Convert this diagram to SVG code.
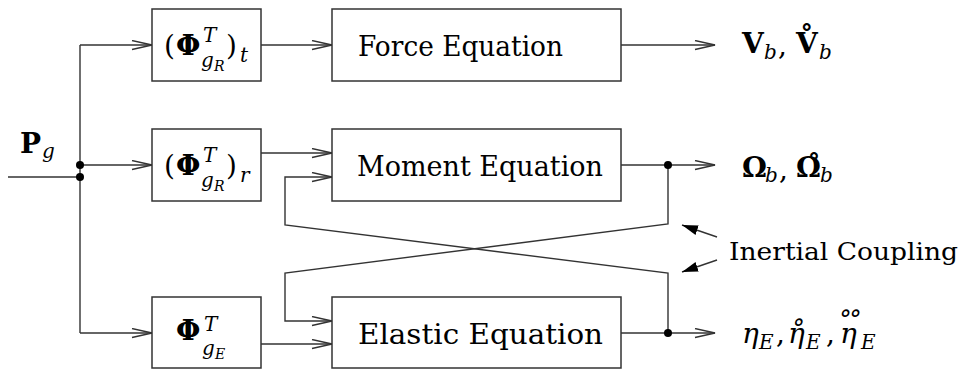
<svg xmlns="http://www.w3.org/2000/svg" width="966" height="369" viewBox="0 0 966 369">
  <style>
    .box { fill: #ffffff; stroke: #333333; stroke-width: 1.5; }
    .ln { fill: none; stroke: #333333; stroke-width: 1.4; }
    text { font-family: 'DejaVu Serif', serif; fill: #000000; font-size: 28px; }
    .bf { font-weight: bold; }
    .it { font-style: italic; }
    .sub { font-size: 20px; font-style: italic; font-weight: normal; }
    .sub2 { font-size: 14px; font-style: italic; font-weight: normal; }
    .note { font-size: 24.5px; }
  </style>
  <defs>
    <marker id="open" markerUnits="userSpaceOnUse" markerWidth="24" markerHeight="12" refX="21" refY="5" orient="auto">
      <path d="M1,0.5 L21,5 L1,9.5" fill="none" stroke="#333333" stroke-width="1.4"/>
    </marker>
    <marker id="solid" markerUnits="userSpaceOnUse" markerWidth="18" markerHeight="12" refX="16" refY="5" orient="auto">
      <path d="M0,0 L16,5 L0,10 Z" fill="#000000"/>
    </marker>
  </defs>

  <!-- signal lines -->
  <g id="connectors">
    <!-- input and fan-out to the three projections -->
    <path class="ln" d="M8,177 H80"/>
    <path class="ln" d="M80,45 V333"/>
    <path class="ln" d="M80,45 H152" marker-end="url(#open)"/>
    <path class="ln" d="M80,165 H152" marker-end="url(#open)"/>
    <path class="ln" d="M80,333 H152" marker-end="url(#open)"/>
    <!-- projections into the equations -->
    <path class="ln" d="M261,45 H332" marker-end="url(#open)"/>
    <path class="ln" d="M261,153 H332" marker-end="url(#open)"/>
    <path class="ln" d="M261,344 H332" marker-end="url(#open)"/>
    <!-- equation outputs -->
    <path class="ln" d="M621,45 H715" marker-end="url(#open)"/>
    <path class="ln" d="M621,165 H715" marker-end="url(#open)"/>
    <path class="ln" d="M621,333 H715" marker-end="url(#open)"/>
    <!-- crossed coupling feedback -->
    <path class="ln" d="M668,165 V224 L285,273 V321 H332" marker-end="url(#open)"/>
    <path class="ln" d="M668,333 V273 L285,225 V177 H332" marker-end="url(#open)"/>
    <!-- annotation pointers -->
    <path class="ln" d="M717,237 L682,225" marker-end="url(#solid)" stroke="#000000"/>
    <path class="ln" d="M717,260 L682,272" marker-end="url(#solid)" stroke="#000000"/>
    <!-- branch points -->
    <circle cx="80" cy="165" r="4" fill="#000000"/>
    <circle cx="80" cy="177" r="4" fill="#000000"/>
    <circle cx="668" cy="165" r="4" fill="#000000"/>
    <circle cx="668" cy="333" r="4" fill="#000000"/>
  </g>

  <g id="input-Pg">
    <text x="20" y="153"><tspan class="bf">P</tspan><tspan class="sub" x="42" y="158">g</tspan></text>
  </g>

  <g id="phi-t">
    <rect class="box" x="152" y="9" width="109" height="72"/>
    <text x="164" y="55">(<tspan class="bf" x="176">Φ</tspan><tspan class="sub" x="203" y="42">T</tspan><tspan class="sub" x="201" y="67">g</tspan><tspan class="sub2" x="214" y="71">R</tspan><tspan x="226" y="55">)</tspan><tspan class="sub" x="240" y="62">t</tspan></text>
  </g>
  <g id="phi-r">
    <rect class="box" x="152" y="129" width="109" height="72"/>
    <text x="164" y="175">(<tspan class="bf" x="176">Φ</tspan><tspan class="sub" x="203" y="162">T</tspan><tspan class="sub" x="201" y="187">g</tspan><tspan class="sub2" x="214" y="191">R</tspan><tspan x="226" y="175">)</tspan><tspan class="sub" x="240" y="182">r</tspan></text>
  </g>
  <g id="phi-e">
    <rect class="box" x="152" y="297" width="109" height="71"/>
    <text x="176" y="340"><tspan class="bf">Φ</tspan><tspan class="sub" x="204" y="331">T</tspan><tspan class="sub" x="202" y="355">g</tspan><tspan class="sub2" x="215" y="359">E</tspan></text>
  </g>

  <g id="force-eq">
    <rect class="box" x="332" y="9" width="289" height="72"/>
    <text x="358" y="56" textLength="205" lengthAdjust="spacingAndGlyphs">Force Equation</text>
  </g>
  <g id="moment-eq">
    <rect class="box" x="332" y="129" width="289" height="72"/>
    <text x="357" y="176" textLength="246" lengthAdjust="spacingAndGlyphs">Moment Equation</text>
  </g>
  <g id="elastic-eq">
    <rect class="box" x="332" y="297" width="289" height="71"/>
    <text x="358" y="344" textLength="245" lengthAdjust="spacingAndGlyphs">Elastic Equation</text>
  </g>

  <g id="out-v">
    <text x="742" y="53"><tspan class="bf">V</tspan><tspan class="sub" x="764" y="59">b</tspan><tspan x="778" y="55">,</tspan><tspan class="bf" x="796" y="53">V̊</tspan><tspan class="sub" x="819" y="59">b</tspan></text>
  </g>
  <g id="out-omega">
    <text x="742" y="177"><tspan class="bf">Ω</tspan><tspan class="sub" x="765" y="182">b</tspan><tspan x="779" y="179">,</tspan><tspan class="bf" x="796" y="177">Ω̊</tspan><tspan class="sub" x="820" y="182">b</tspan></text>
  </g>
  <g id="out-eta">
    <text x="742" y="343"><tspan class="it">η</tspan><tspan class="sub" x="759" y="349">E</tspan><tspan x="776" y="343">,</tspan><tspan class="it" x="788">η̊</tspan><tspan class="sub" x="806" y="349">E</tspan><tspan x="826" y="343">,</tspan><tspan class="it" x="840 836 846" y="343 334 334">η˚˚</tspan><tspan class="sub" x="861" y="349">E</tspan></text>
  </g>

  <g id="inertial-coupling">
    <text class="note" x="729" y="260" textLength="229" lengthAdjust="spacingAndGlyphs">Inertial Coupling</text>
  </g>
</svg>
